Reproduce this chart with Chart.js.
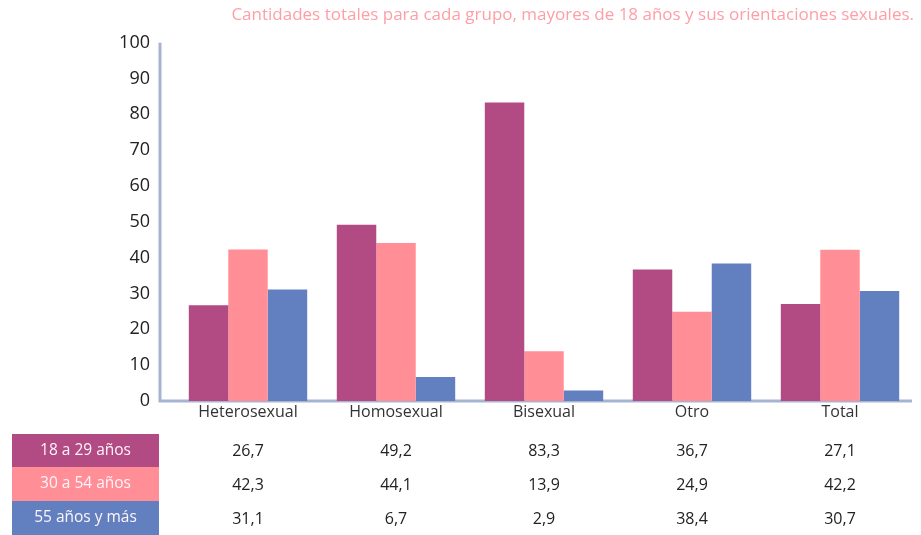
<!DOCTYPE html>
<html>
<head>
<meta charset="utf-8">
<script src="https://cdn.jsdelivr.net/npm/chart.js@4.4.1/dist/chart.umd.min.js"></script>
<style>
  html, body { margin: 0; padding: 0; background: #fff; }
  #wrap { width: 921px; height: 535px; position: relative; }
</style>
</head>
<body>
<div id="wrap"><canvas id="chart"></canvas></div>
<script>
  // ── Data ──────────────────────────────────────────────────────────
  var CATEGORIES = ['Heterosexual', 'Homosexual', 'Bisexual', 'Otro', 'Total'];
  var GROUPS = ['18 a 29 años', '30 a 54 años', '55 años y más'];
  var YOUNG  = [26.7, 49.2, 83.3, 36.7, 27.1];
  var MIDDLE = [42.3, 44.1, 13.9, 24.9, 42.2];
  var SENIOR = [31.1, 6.7, 2.9, 38.4, 30.7];
  var Y_TICKS = [0, 10, 20, 30, 40, 50, 60, 70, 80, 90, 100];
  var TITLE = 'Cantidades totales para cada grupo, mayores de 18 años y sus orientaciones sexuales.';

  // ── Colors ────────────────────────────────────────────────────────
  var MAGENTA = '#B24A84';
  var PINK    = '#FF8E96';
  var BLUE    = '#6280C0';
  var AXIS    = '#A6B4D2';
  var FONT    = '"Open Sans", "Noto Sans", sans-serif';

  var SERIES = [YOUNG, MIDDLE, SENIOR];
  var COLORS = [MAGENTA, PINK, BLUE];

  function fmt(v) { return String(v).replace('.', ','); }

  // axis lines drawn manually: y line sits left of the first category
  var axisLines = {
    id: 'axisLines',
    beforeDatasetsDraw: function (chart) {
      var ctx = chart.ctx, a = chart.chartArea;
      var y = chart.scales.y;
      var left = a.left - 14;
      ctx.save();
      ctx.strokeStyle = AXIS;
      ctx.lineWidth = 3;
      ctx.beginPath();
      ctx.moveTo(left, y.getPixelForValue(100));
      ctx.lineTo(left, a.bottom);
      ctx.lineTo(a.right - 2, a.bottom);
      ctx.stroke();
      ctx.restore();
    }
  };

  // data table below the chart
  var dataTable = {
    id: 'dataTable',
    afterDraw: function (chart) {
      var ctx = chart.ctx;
      var x = chart.scales.x;
      var rowTop = [434, 467, 501];
      var rowH = [33, 34, 34];
      ctx.save();
      ctx.textBaseline = 'middle';
      ctx.textAlign = 'center';
      for (var r = 0; r < GROUPS.length; r++) {
        var cy = rowTop[r] + rowH[r] / 2;
        ctx.fillStyle = COLORS[r];
        ctx.fillRect(12, rowTop[r], 147, rowH[r]);
        ctx.fillStyle = '#FFF4F8';
        ctx.font = '15.5px ' + FONT;
        ctx.fillText(GROUPS[r], 85.5, cy);
        ctx.fillStyle = '#222';
        ctx.font = '16px ' + FONT;
        for (var i = 0; i < CATEGORIES.length; i++) {
          ctx.fillText(fmt(SERIES[r][i]), x.getPixelForValue(i), cy + 1);
        }
      }
      ctx.restore();
    }
  };

  new Chart(document.getElementById('chart'), {
    type: 'bar',
    data: {
      labels: CATEGORIES,
      datasets: GROUPS.map(function (g, i) {
        return {
          label: g,
          data: SERIES[i],
          backgroundColor: COLORS[i],
          borderWidth: 0,
          barPercentage: 1.0,
          categoryPercentage: 0.8
        };
      })
    },
    options: {
      responsive: true,
      maintainAspectRatio: false,
      animation: false,
      layout: { padding: { left: 0, right: 7, top: 0, bottom: 110 } },
      plugins: {
        legend: { display: false },
        tooltip: { enabled: false },
        title: {
          display: true,
          text: TITLE,
          align: 'end',
          color: '#FF9EA6',
          font: { family: FONT, size: 17, weight: 'normal', lineHeight: 1.1 },
          padding: { top: 6, bottom: 18 }
        }
      },
      scales: {
        x: {
          grid: { display: false, drawTicks: false },
          border: { display: false },
          ticks: { color: '#333', font: { family: FONT, size: 16 }, padding: 2 },
          afterFit: function (s) { s.height = 24; }
        },
        y: {
          min: 0,
          max: 100,
          afterBuildTicks: function (s) {
            s.ticks = Y_TICKS.map(function (v) { return { value: v }; });
          },
          grid: { display: false, drawTicks: false },
          border: { display: false },
          ticks: { color: '#222', font: { family: FONT, size: 18 }, padding: 24 },
          afterFit: function (s) { s.width = 174; }
        }
      }
    },
    plugins: [axisLines, dataTable]
  });
</script>
</body>
</html>
